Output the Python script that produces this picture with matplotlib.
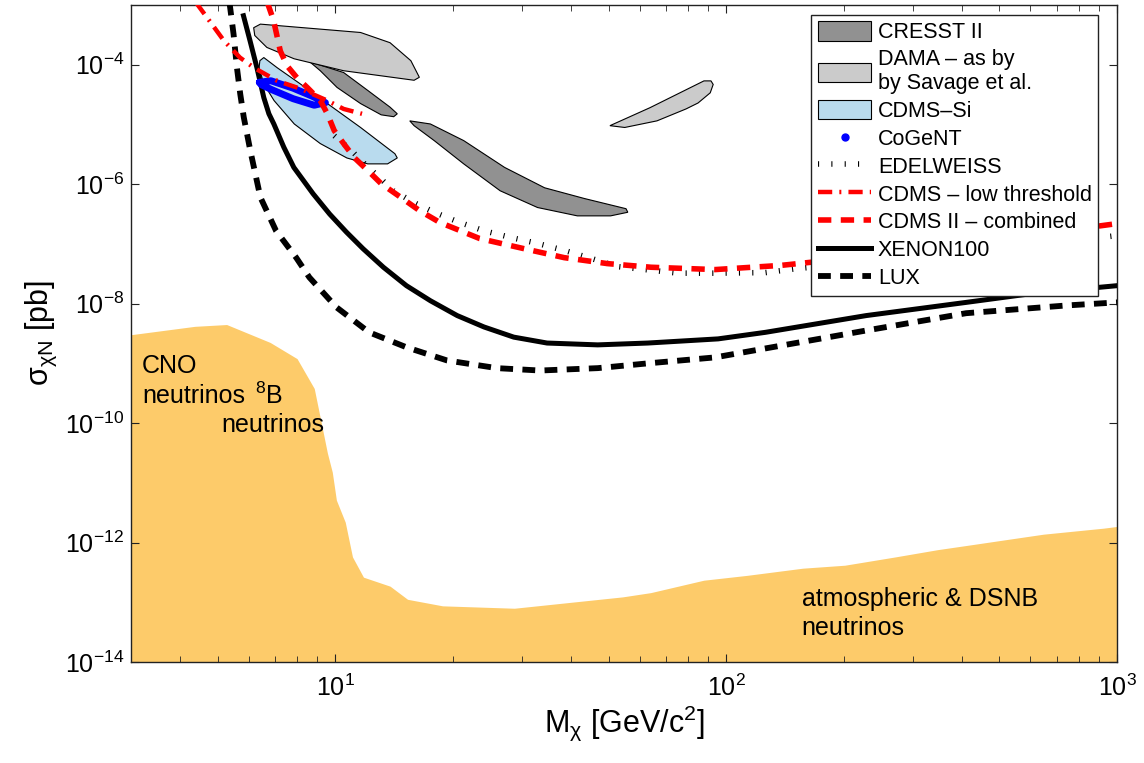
import numpy as np
import matplotlib
matplotlib.use('Agg')
import matplotlib.pyplot as plt
from matplotlib.patches import Patch
from matplotlib.lines import Line2D
from matplotlib.ticker import LogLocator, NullFormatter, NullLocator, FixedLocator

plt.rcParams['font.family'] = ['Liberation Sans', 'DejaVu Sans']
plt.rcParams['mathtext.fontset'] = 'custom'
plt.rcParams['mathtext.rm'] = 'Liberation Sans'
plt.rcParams['mathtext.it'] = 'Liberation Sans:italic'
plt.rcParams['mathtext.bf'] = 'Liberation Sans:bold'
plt.rcParams['mathtext.default'] = 'regular'

# ---------------- data (mass in GeV/c^2, cross section in pb) ----------------
nu_mass = [3.0, 4.37, 5.27, 6.81, 7.98, 8.83, 9.54, 9.82, 10.06, 10.6, 11.06, 11.8, 13.8,
           15.3, 18.8, 28.7, 54.3, 64.1, 87.6, 113, 157, 201, 271, 347, 431, 521, 648, 923, 1000]
nu_sigma = [3.02e-9, 4.17e-9, 4.47e-9, 2.24e-9, 1.20e-9, 3.80e-10, 3.16e-11, 1.51e-11, 5.13e-12,
            2.19e-12, 5.75e-13, 2.63e-13, 1.86e-13, 1.12e-13, 8.71e-14, 7.94e-14, 1.23e-13, 1.45e-13,
            2.34e-13, 2.82e-13, 3.72e-13, 4.17e-13, 5.75e-13, 7.59e-13, 9.33e-13, 1.12e-12, 1.38e-12,
            1.74e-12, 1.86e-12]

xenon_mass = [5.82, 6.05, 6.30, 6.56, 6.76, 6.96, 7.38, 7.83, 8.77, 9.67, 10.67, 11.77, 13.27, 15.2,
              17.5, 20.5, 24.0, 28.6, 34.8, 46.9, 63.0, 95.3, 126, 228, 411, 608, 1000]
xenon_sigma = [6.61e-4, 2.51e-4, 8.91e-5, 2.82e-5, 1.51e-5, 1.02e-5, 4.17e-6, 1.91e-6, 6.92e-7, 3.16e-7,
               1.58e-7, 8.32e-8, 4.07e-8, 2.00e-8, 1.12e-8, 6.31e-9, 4.07e-9, 2.75e-9, 2.19e-9, 2.04e-9,
               2.19e-9, 2.57e-9, 3.31e-9, 6.31e-9, 1.05e-8, 1.48e-8, 2.00e-8]

lux_mass = [5.36, 5.49, 5.60, 5.71, 5.83, 6.06, 6.43, 7.05, 7.94, 8.58, 10.06, 12.2, 15.2, 19.3, 25.9,
            33.4, 46.9, 63.0, 93.7, 126, 228, 411, 743, 1000]
lux_sigma = [1.1e-3, 3.24e-4, 8.91e-5, 3.24e-5, 1.32e-5, 3.63e-6, 6.03e-7, 1.66e-7, 5.89e-8, 2.75e-8,
             8.71e-9, 3.31e-9, 1.86e-9, 1.12e-9, 8.32e-10, 7.59e-10, 8.32e-10, 1.00e-9, 1.26e-9,
             1.78e-9, 3.55e-9, 6.92e-9, 9.33e-9, 1.05e-8]

cdms2_mass = [6.70, 6.95, 7.23, 7.53, 7.98, 8.47, 9.15, 9.54, 9.93, 10.5, 11.2, 12.1, 13.1, 14.7, 16.4,
              18.5, 23.4, 30.4, 38.5, 49.7, 64.2, 93.7, 138, 206, 372, 673, 1000]
cdms2_sigma = [1.1e-3, 5.50e-4, 1.70e-4, 9.55e-5, 6.03e-5, 4.17e-5, 2.51e-5, 1.51e-5, 7.94e-6, 4.79e-6,
               2.75e-6, 1.70e-6, 1.02e-6, 6.03e-7, 3.63e-7, 2.29e-7, 1.23e-7, 8.32e-8, 5.89e-8, 4.68e-8,
               4.07e-8, 3.72e-8, 4.37e-8, 5.75e-8, 9.33e-8, 1.55e-7, 2.19e-7]

cdmslt_mass = [4.40, 4.72, 5.19, 5.70, 6.19, 7.10, 8.13, 9.54, 10.5, 11.7]
cdmslt_sigma = [1.1e-3, 5.89e-4, 2.51e-4, 1.32e-4, 8.91e-5, 5.37e-5, 3.98e-5, 2.51e-5, 1.82e-5, 1.51e-5]

edw_mass = [9.94, 11.0, 11.8, 14.1, 15.9, 18.2, 20.8, 24.0, 28.0, 32.9, 38.6, 45.0, 52.8, 64.2, 75.3,
            93.7, 126, 153, 372, 1000]
edw_sigma = [6.46e-6, 3.63e-6, 2.29e-6, 7.76e-7, 4.90e-7, 3.24e-7, 2.29e-7, 1.66e-7, 1.29e-7, 1.02e-7,
             7.76e-8, 5.75e-8, 4.17e-8, 3.63e-8, 3.24e-8, 3.24e-8, 3.31e-8, 3.89e-8, 6.46e-8, 1.38e-7]

cogent_mass = [6.39, 6.84, 7.80, 8.73, 9.43, 8.83, 7.80, 6.88, 6.46, 6.39]
cogent_sigma = [5.09e-5, 5.40e-5, 4.05e-5, 2.97e-5, 2.32e-5, 2.10e-5, 2.70e-5, 3.82e-5, 4.64e-5, 5.09e-5]

cdmssi_mass = [6.56, 7.10, 8.13, 9.54, 11.6, 14.2, 14.4, 13.6, 12.1, 10.7, 9.15, 7.85, 6.97, 6.56, 6.38, 6.41]
cdmssi_sigma = [1.32e-4, 8.91e-5, 4.79e-5, 2.24e-5, 8.91e-6, 3.24e-6, 2.75e-6, 2.19e-6, 2.19e-6, 2.75e-6,
                4.79e-6, 1.02e-5, 2.51e-5, 4.79e-5, 8.91e-5, 1.17e-4]

dama1_mass = [6.18, 6.43, 11.6, 13.8, 15.6, 16.4, 15.9, 10.5, 7.84, 6.68, 6.22]
dama1_sigma = [4.17e-4, 4.79e-4, 3.47e-4, 2.34e-4, 1.17e-4, 6.17e-5, 5.50e-5, 7.94e-5, 1.26e-4, 1.95e-4, 3.09e-4]

dama2_mass = [50.4, 63.8, 87.7, 91.4, 92.6, 91.0, 84.7, 78.9, 66.5, 55.0]
dama2_sigma = [9.55e-6, 1.91e-5, 5.37e-5, 5.37e-5, 4.68e-5, 3.39e-5, 2.29e-5, 1.82e-5, 1.15e-5, 8.91e-6]

cresst1_mass = [8.6, 10.5, 12.1, 13.8, 14.4, 14.1, 13.1, 11.6, 10.1, 9.15]
cresst1_sigma = [1.12e-4, 7.41e-5, 3.72e-5, 1.95e-5, 1.51e-5, 1.35e-5, 1.45e-5, 2.24e-5, 4.17e-5, 7.94e-5]

cresst2_mass = [15.5, 17.5, 21.3, 27.1, 34.3, 43.4, 55.4, 56.0, 50.6, 41.6, 32.9, 26.4, 21.3, 17.9, 15.9]
cresst2_sigma = [1.15e-5, 1.02e-5, 5.37e-6, 1.91e-6, 8.71e-7, 5.75e-7, 3.89e-7, 3.39e-7, 2.95e-7, 2.95e-7,
                 4.07e-7, 7.76e-7, 2.19e-6, 5.37e-6, 9.55e-6]

legend_labels = ['CRESST II', 'DAMA – as by\nby Savage et al.', 'CDMS–Si', 'CoGeNT', 'EDELWEISS',
                 'CDMS – low threshold', 'CDMS II – combined', 'XENON100', 'LUX']

# ---------------- styles ----------------
C_NU = '#FDCB6A'
C_CRESST = '#919191'
C_DAMA = '#CBCBCB'
C_CDMSSI = '#B9DBEE'
C_BLUE = '#0000FF'
C_RED = '#FF0000'

fig = plt.figure(figsize=(11.44, 7.63), dpi=100)
ax = fig.add_axes([0.1145, 0.1324, 0.862, 0.861])
ax.set_xscale('log')
ax.set_yscale('log')

ax.fill_between(nu_mass, 1e-15, nu_sigma, color=C_NU, linewidth=0, zorder=1)

ax.fill(cresst1_mass, cresst1_sigma, facecolor=C_CRESST, edgecolor='black', linewidth=0.8, zorder=2)
ax.fill(cresst2_mass, cresst2_sigma, facecolor=C_CRESST, edgecolor='black', linewidth=0.8, zorder=2)
ax.fill(dama1_mass, dama1_sigma, facecolor=C_DAMA, edgecolor='black', linewidth=0.8, zorder=2.1)
ax.fill(dama2_mass, dama2_sigma, facecolor=C_DAMA, edgecolor='black', linewidth=0.8, zorder=2.1)
ax.fill(cdmssi_mass, cdmssi_sigma, facecolor=C_CDMSSI, edgecolor='black', linewidth=0.8, zorder=2.2)

edw_style = dict(color='black', linewidth=4.0, linestyle=(0, (0.2, 2.2)), dash_capstyle='butt')
lt_style = dict(color=C_RED, linewidth=3.2, linestyle=(0, (3.2, 1.6, 0.45, 1.6)), dash_capstyle='butt')
c2_style = dict(color=C_RED, linewidth=4.0, linestyle=(0, (2.4, 1.7)), dash_capstyle='butt')
xe_style = dict(color='black', linewidth=3.6, linestyle='-')
lux_style = dict(color='black', linewidth=4.2, linestyle=(0, (2.2, 1.6)), dash_capstyle='butt')

ax.plot(xenon_mass, xenon_sigma, zorder=3, **xe_style)
ax.plot(lux_mass, lux_sigma, zorder=3, **lux_style)
ax.plot(edw_mass, edw_sigma, zorder=3.1, **edw_style)
ax.plot(cogent_mass, cogent_sigma, color=C_BLUE, linewidth=5.0, zorder=3.2,
        solid_joinstyle='round', solid_capstyle='round')
ax.plot(cdmslt_mass, cdmslt_sigma, zorder=3.3, **lt_style)
ax.plot(cdms2_mass, cdms2_sigma, zorder=3.4, **c2_style)

ax.set_xlim(3, 1000)
ax.set_ylim(1e-14, 1e-3)

ax.xaxis.set_major_locator(FixedLocator([10, 100, 1000]))
ax.xaxis.set_minor_locator(LogLocator(base=10, subs=np.arange(2, 10), numticks=20))
ax.xaxis.set_minor_formatter(NullFormatter())
ax.yaxis.set_major_locator(FixedLocator([1e-14, 1e-12, 1e-10, 1e-8, 1e-6, 1e-4]))
ax.yaxis.set_minor_locator(NullLocator())
ax.tick_params(which='both', direction='in', top=True, right=True, labelsize=18, colors='#222222',
               labelcolor='black')
ax.tick_params(which='major', length=6, width=0.8)
ax.tick_params(which='minor', length=4, width=0.6)
ax.tick_params(axis='x', pad=9)
ax.tick_params(axis='y', pad=5)
for s in ax.spines.values():
    s.set_linewidth(1.0)
    s.set_color('#222222')

ax.set_xlabel(r'M$_{\chi}$ [GeV/c$^2$]', fontsize=22, labelpad=2)
ax.set_ylabel(r'$\sigma_{\chi N}$ [pb]', fontsize=22, labelpad=4)

ax.text(3.2, 10**-9.05, 'CNO', fontsize=18, va='center', ha='left', zorder=4)
ax.text(3.2, 10**-9.54, 'neutrinos', fontsize=18, va='center', ha='left', zorder=4)
ax.text(6.22, 10**-9.54, r'$^8$B', fontsize=18, va='center', ha='left', zorder=4)
ax.text(5.1, 10**-10.04, 'neutrinos', fontsize=18, va='center', ha='left', zorder=4)
ax.text(156, 10**-12.95, 'atmospheric & DSNB', fontsize=18, va='center', ha='left', zorder=4)
ax.text(156, 10**-13.43, 'neutrinos', fontsize=18, va='center', ha='left', zorder=4)

handles = [
    Patch(facecolor=C_CRESST, edgecolor='black', linewidth=0.8),
    Patch(facecolor=C_DAMA, edgecolor='black', linewidth=0.8),
    Patch(facecolor=C_CDMSSI, edgecolor='black', linewidth=0.8),
    Line2D([], [], color=C_BLUE, marker='.', markersize=10, linestyle='none'),
    Line2D([], [], **edw_style),
    Line2D([], [], **lt_style),
    Line2D([], [], **c2_style),
    Line2D([], [], **xe_style),
    Line2D([], [], **lux_style),
]
leg = ax.legend(handles, legend_labels, loc='upper right', bbox_to_anchor=(0.981, 0.985),
                borderaxespad=0, fontsize=15.5, frameon=True, fancybox=False, framealpha=1,
                edgecolor='#222222', handlelength=2.5, handleheight=1.0, handletextpad=0.3,
                labelspacing=0.27, borderpad=0.3)
leg.get_frame().set_linewidth(1.0)
leg.set_zorder(10)

fig.savefig('out.png', dpi=100)
